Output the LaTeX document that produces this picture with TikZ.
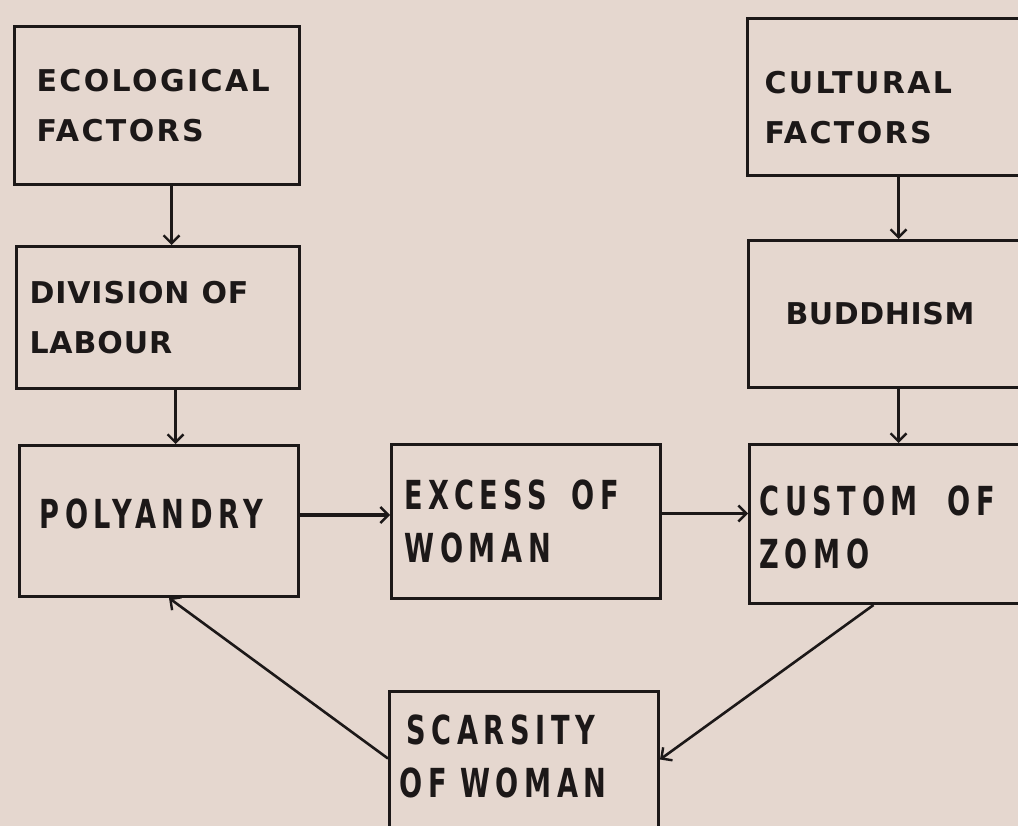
\documentclass[tikz,border=0pt]{standalone}
\usepackage{fontspec}
\setsansfont{DejaVu Sans}
\usetikzlibrary{arrows.meta}
\definecolor{paper}{RGB}{229,215,207}
\definecolor{ink}{RGB}{28,24,24}
\begin{document}
\begin{tikzpicture}[x=1pt,y=-1pt,
  box/.style={draw=ink, line width=3pt, anchor=north west, inner ysep=0pt,
    align=left, text=ink},
  toprow/.style={font=\sffamily\bfseries\fontsize{30}{50}\selectfont\addfontfeatures{LetterSpace=8}},
  lowrow/.style={font=\sffamily\bfseries\fontsize{40}{53}\selectfont\addfontfeatures{FakeStretch=0.68,LetterSpace=14}},
  arr/.style={draw=ink, line width=2.6pt, -{Straight Barb[length=8pt,width=16pt,line width=2.4pt]}}]
\clip (0,0) rectangle (1018,826);
\fill[paper] (0,0) rectangle (1018,826);
\node[box, toprow, minimum height=158pt, inner xsep=22pt, text width=241pt] (eco) at (13,25) {ECOLOGICAL\\FACTORS};
\node[box, toprow, minimum height=142pt, inner xsep=13pt, text width=257pt] (div) at (15,245) {\addfontfeatures{LetterSpace=3}DIVISION\hspace{12pt}OF\\LABOUR};
\node[box, toprow, minimum height=157pt, inner xsep=17pt, text width=256pt] (cult) at (746,17) {\rule{0pt}{44pt}CULTURAL\\FACTORS};
\node[box, toprow, minimum height=147pt, inner xsep=37pt, text width=216pt] (budd) at (747,239) {\addfontfeatures{LetterSpace=2}BUDDHISM};
\node[box, lowrow, minimum height=151pt, inner xsep=20pt, text width=239pt] (poly) at (18,444) {POLYANDRY\rule[-15pt]{0pt}{0pt}};
\node[box, lowrow, minimum height=154pt, inner xsep=13pt, text width=243pt] (exc) at (390,443) {EXCESS\hspace{24pt}OF\\WOMAN};
\node[box, lowrow, minimum height=159pt, inner xsep=10pt, text width=270pt] (cust) at (748,443) {\rule{0pt}{36pt}CUSTOM\hspace{30pt}OF\\ZOMO};
\node[box, lowrow, minimum height=160pt, inner xsep=10pt, text width=249pt] (scar) at (388,690) {\hspace*{7pt}SCARSITY\\OF WOMAN\rule[-30pt]{0pt}{0pt}};
\draw[arr] ([xshift=14.5pt]eco.south) -- ([xshift=14.5pt]eco.south |- div.north);
\draw[arr] ([xshift=17.5pt]div.south) -- ([xshift=17.5pt]div.south |- poly.north);
\draw[arr] ([xshift=6pt]cult.south) -- ([xshift=6pt]cult.south |- budd.north);
\draw[arr] ([xshift=5pt]budd.south) -- ([xshift=5pt]budd.south |- cust.north);
\draw[arr, line width=3.6pt] ([yshift=6pt]poly.east) -- ([yshift=6pt]poly.east -| exc.west);
\draw[arr] ([yshift=8pt]exc.east) -- ([yshift=8pt]exc.east -| cust.west);
\draw[arr] ([yshift=13pt]scar.west) -- ([xshift=10pt]poly.south);
\draw[arr] ([xshift=-21pt]cust.south) -- ([yshift=12pt]scar.east);
\end{tikzpicture}
\end{document}
